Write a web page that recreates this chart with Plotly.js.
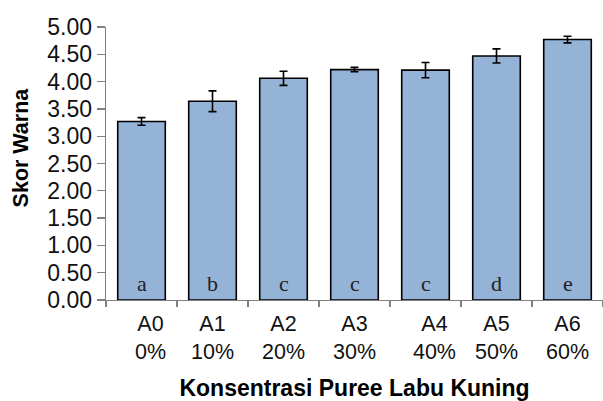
<!DOCTYPE html>
<html>
<head>
<meta charset="utf-8">
<script src="https://cdn.plot.ly/plotly-3.0.1.min.js"></script>
<style>html,body{margin:0;padding:0;background:#fff;}#chart{width:603px;height:401px;}</style>
</head>
<body>
<div id="chart"></div>
<script>
const categories = ["A0", "A1", "A2", "A3", "A4", "A5", "A6"];
const tickLabels = ["\u00a0\u00a0\u00a0A0<br>\u00a0\u00a0\u00a00%", "A1<br>10%", "A2<br>20%", "A3<br>30%", "\u00a0\u00a0\u00a0A4<br>\u00a0\u00a0\u00a040%", "A5<br>50%", "A6<br>60%"];
const scores = [3.27, 3.64, 4.06, 4.22, 4.21, 4.47, 4.77];
const errors = [0.07, 0.19, 0.13, 0.04, 0.14, 0.13, 0.06];
const letters = ["a", "b", "c", "c", "c", "d", "e"];
const yTitle = "Skor Warna";
const xTitle = "Konsentrasi Puree Labu Kuning";

const trace = {
  type: "bar",
  x: categories,
  y: scores,
  marker: {color: "#95B3D7", line: {color: "#000000", width: 1.6}},
  error_y: {type: "data", array: errors, visible: true, color: "#000000", thickness: 1.6, width: 4},
  hoverinfo: "none"
};

const annotations = categories.map((c, i) => ({
  x: c, y: 0.3, xref: "x", yref: "y",
  text: letters[i], showarrow: false,
  font: {family: "Liberation Serif, Times New Roman, serif", size: 22, color: "#222"}
}));
annotations.push({
  xref: "paper", yref: "paper", x: -0.171, y: 0.559,
  xanchor: "center", yanchor: "middle",
  text: "<b>" + yTitle + "</b>", textangle: -90, showarrow: false,
  font: {family: "Liberation Sans, Arial, sans-serif", size: 21.5, color: "#000"}
});

const layout = {
  width: 603, height: 401,
  margin: {l: 106, r: 0, t: 27, b: 101},
  paper_bgcolor: "#ffffff", plot_bgcolor: "#ffffff",
  showlegend: false,
  bargap: 0.33,
  font: {family: "Liberation Sans, Arial, sans-serif", color: "#000"},
  xaxis: {
    type: "category",
    tickvals: categories,
    ticktext: tickLabels,
    tickangle: 0,
    tickson: "boundaries",
    ticks: "outside", ticklen: 6, tickcolor: "#808080", tickwidth: 1.3,
    ticklabelstandoff: 4,
    showline: true, linecolor: "#808080", linewidth: 1.3,
    showgrid: false, zeroline: false,
    tickfont: {size: 21.5, color: "#111"},
    range: [-0.5, 6.5],
    title: {text: "<b>" + xTitle + "</b>", font: {size: 23, color: "#000"}, standoff: 18}
  },
  yaxis: {
    range: [0, 5], dtick: 0.5, tick0: 0, tickformat: ".2f",
    ticks: "outside", ticklen: 8, tickcolor: "#808080", tickwidth: 1.3,
    showline: true, linecolor: "#808080", linewidth: 1.3,
    showgrid: false, zeroline: false,
    tickfont: {size: 23, color: "#111"}
  },
  annotations: annotations
};

Plotly.newPlot("chart", [trace], layout, {staticPlot: true, displayModeBar: false});
</script>
</body>
</html>
